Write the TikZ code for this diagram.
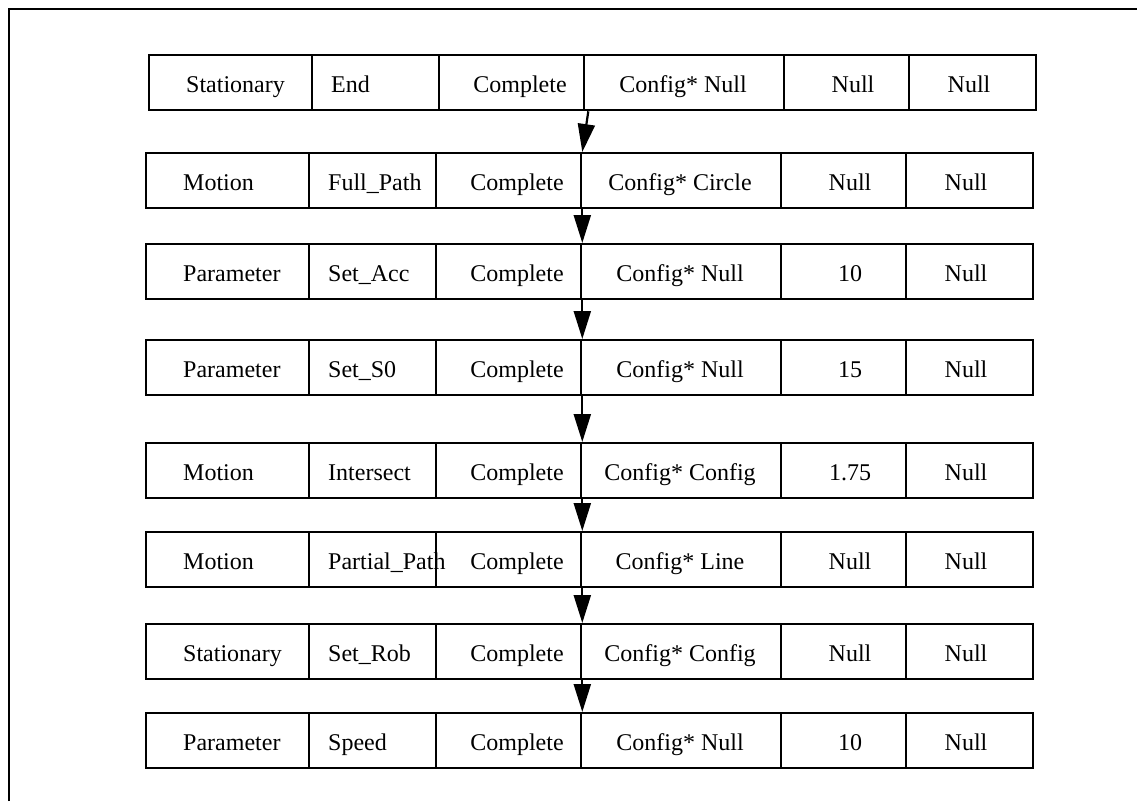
\documentclass[tikz,border=0pt]{standalone}
\usepackage{fontspec}
\setmainfont{Liberation Serif}
\usetikzlibrary{arrows.meta}
\begin{document}
\begin{tikzpicture}[x=1pt,y=-1pt,
  cell/.style={draw, line width=2.3pt, inner sep=0pt, anchor=north west, minimum height=55pt},
  lbl/.style={font=\fontsize{24}{26}\selectfont, inner sep=0pt},
  flow/.style={line width=2.2pt, -{Triangle[length=28pt,width=17pt]}}]
\useasboundingbox (0,0) rectangle (1137,801);
\draw[line width=2.2pt] (9,801) -- (9,9) -- (1137,9);
\foreach \r/\ty/\dx/\ca/\cb/\cc/\cd/\ce/\cf in {
  1/54/3/Stationary/End/Complete/Config* Null/Null/Null,
  2/152/0/Motion/Full\_Path/Complete/Config* Circle/Null/Null,
  3/243/0/Parameter/Set\_Acc/Complete/Config* Null/10/Null,
  4/339/0/Parameter/Set\_S0/Complete/Config* Null/15/Null,
  5/442/0/Motion/Intersect/Complete/Config* Config/1.75/Null,
  6/531/0/Motion/Partial\_Path/Complete/Config* Line/Null/Null,
  7/623/0/Stationary/Set\_Rob/Complete/Config* Config/Null/Null,
  8/712/0/Parameter/Speed/Complete/Config* Null/10/Null}{
  \node[cell, minimum width=163pt] (c\r-1) at (145+\dx,\ty) {};
  \node[cell, minimum width=127pt] (c\r-2) at (308+\dx,\ty) {};
  \node[cell, minimum width=145pt] (c\r-3) at (435+\dx,\ty) {};
  \node[cell, minimum width=200pt] (c\r-4) at (580+\dx,\ty) {};
  \node[cell, minimum width=125pt] (c\r-5) at (780+\dx,\ty) {};
  \node[cell, minimum width=127pt] (c\r-6) at (905+\dx,\ty) {};
  \node[lbl, anchor=base west] (t\r-1) at (183+\dx,\ty+38) {\ca};
  \node[lbl, anchor=base west] (t\r-2) at (328+\dx,\ty+38) {\cb};
  \node[lbl, anchor=base] (t\r-3) at (517+\dx,\ty+38) {\cc};
  \node[lbl, anchor=base] (t\r-4) at (680+\dx,\ty+38) {\cd};
  \node[lbl, anchor=base] (t\r-5) at (850+\dx,\ty+38) {\ce};
  \node[lbl, anchor=base] (t\r-6) at (966+\dx,\ty+38) {\cf};
}
\draw[flow] ([xshift=3pt]c1-3.south east) -- (c2-3.north east);
\foreach \r/\n in {2/3,3/4,4/5,5/6,6/7,7/8}{
  \draw[flow] (c\r-3.south east) -- (c\n-3.north east);
}
\end{tikzpicture}
\end{document}
